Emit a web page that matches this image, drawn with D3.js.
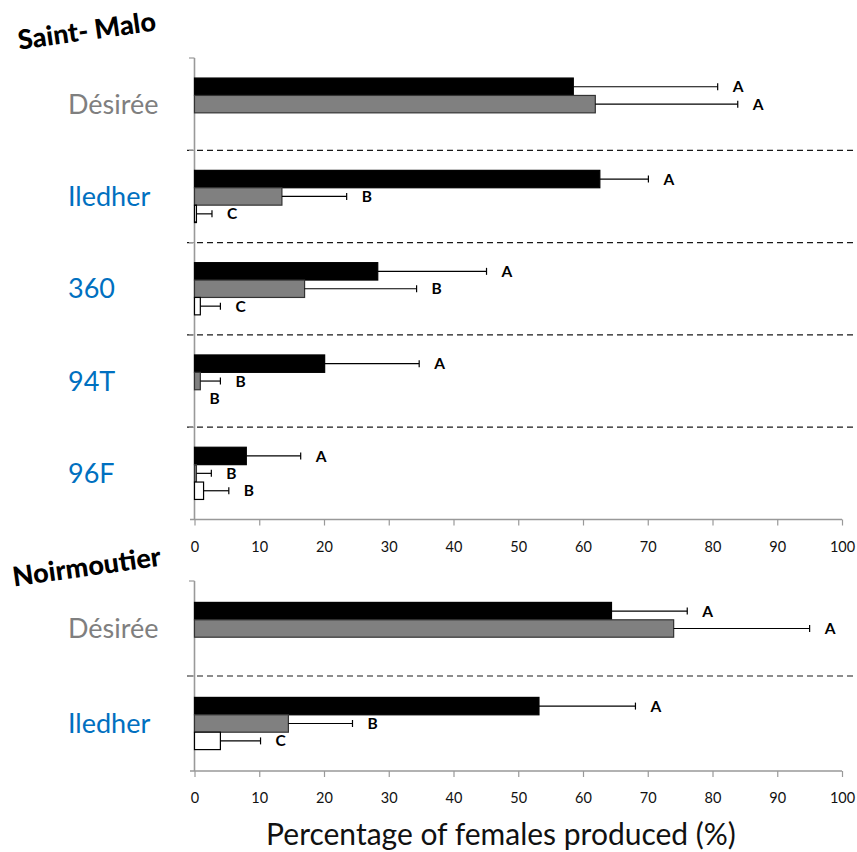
<!DOCTYPE html>
<html>
<head>
<meta charset="utf-8">
<script src="https://cdn.jsdelivr.net/npm/d3@7"></script>
<style>
  html, body { margin: 0; padding: 0; background: #fff; }
  svg { display: block; font-family: Lato, "Open Sans", sans-serif; }
</style>
</head>
<body>
<svg id="chart" width="857" height="852"></svg>
<script>
// ---- Saint-Malo population ----
const stMaloGroups = ["Désirée", "Iledher", "360", "94T", "96F"];
const stMaloBlack    = [58.5, 62.6, 28.3, 20.1, 8.0];
const stMaloBlackErr = [22.3, 7.5, 16.8, 14.6, 8.4];
const stMaloBlackSig = ["A", "A", "A", "A", "A"];
const stMaloGray     = [61.9, 13.5, 17.0, 0.9, 0.3];
const stMaloGrayErr  = [22.0, 10.0, 17.3, 3.1, 2.3];
const stMaloGraySig  = ["A", "B", "B", "B", "B"];
const stMaloWhite    = [null, 0.3, 0.9, 0, 1.4];
const stMaloWhiteErr = [null, 2.4, 3.1, 0, 3.9];
const stMaloWhiteSig = [null, "C", "C", "B", "B"];

// ---- Noirmoutier population ----
const noirGroups = ["Désirée", "Iledher"];
const noirBlack    = [64.4, 53.2];
const noirBlackErr = [11.7, 14.9];
const noirBlackSig = ["A", "A"];
const noirGray     = [74.0, 14.5];
const noirGrayErr  = [21.0, 9.9];
const noirGraySig  = ["A", "B"];
const noirWhite    = [null, 4.0];
const noirWhiteErr = [null, 6.2];
const noirWhiteSig = [null, "C"];

const xTicks = [0, 10, 20, 30, 40, 50, 60, 70, 80, 90, 100];
const seriesNames = ["black", "gray", "white"];
const seriesFill = { black: "#000000", gray: "#808080", white: "#ffffff" };
const seriesStroke = { black: "#000000", gray: "#333333", white: "#000000" };
const groupColor = { "Désirée": "#7f7f7f" };
const defaultGroupColor = "#0070c0";

const svg = d3.select("#chart");
const x = d3.scaleLinear().domain([0, 100]).range([194.5, 842]);

function buildRows(groups, vals) {
  // vals: [means, errs, letters] for each series
  const rows = [];
  groups.forEach((g, gi) => {
    seriesNames.forEach((s, si) => {
      const [m, e, sig] = vals[si];
      if (m[gi] === null) return;
      rows.push({ group: g, series: s, value: m[gi], err: e[gi], sig: sig[gi] });
    });
  });
  return rows;
}

function drawPanel(cfg) {
  const { groups, rows, top, bottom, title, titleX, titleY } = cfg;
  const g = svg.append("g");
  const y = d3.scaleBand().domain(groups).range([top, bottom]);
  const barH = 17.4;
  const yInner = d3.scaleBand().domain(seriesNames).range([-1.5 * barH, 1.5 * barH]);

  // category separators (dashed) with small outer ticks
  const bounds = groups.slice(1).map(d => y(d));
  g.selectAll("line.sep").data(bounds).join("line")
    .attr("x1", 187).attr("x2", 857)
    .attr("y1", d => d).attr("y2", d => d)
    .attr("stroke", "#1a1a1a").attr("stroke-width", 1.2)
    .attr("stroke-dasharray", "6,4");
  g.selectAll("line.ytick").data([top, ...bounds]).join("line")
    .attr("x1", 189).attr("x2", x(0))
    .attr("y1", d => d).attr("y2", d => d)
    .attr("stroke", "#999").attr("stroke-width", 1.2);

  // vertical category axis
  g.append("line")
    .attr("x1", x(0)).attr("x2", x(0))
    .attr("y1", top).attr("y2", bottom)
    .attr("stroke", "#999").attr("stroke-width", 1.6);

  // value axis
  const axis = d3.axisBottom(x).tickValues(xTicks).tickSize(6).tickPadding(16)
    .tickFormat(d3.format("d"));
  const ax = g.append("g").attr("transform", `translate(0,${bottom})`).call(axis);
  ax.select(".domain").attr("stroke", "#999").attr("stroke-width", 1.4)
    .attr("d", `M190,0H${x(100)}`);
  ax.selectAll(".tick line").attr("stroke", "#999").attr("stroke-width", 1.2);
  ax.selectAll(".tick text").attr("fill", "#111").style("font-size", "14.5px")
    .style("font-family", "Lato, sans-serif");

  // category labels
  g.selectAll("text.cat").data(groups).join("text")
    .attr("x", 68).attr("y", d => y(d) + y.bandwidth() / 2)
    .attr("dy", "0.35em")
    .attr("fill", d => groupColor[d] || defaultGroupColor)
    .style("font-size", "27px")
    .text(d => d);

  const cy = d => y(d.group) + y.bandwidth() / 2 + yInner(d.series);

  // bars
  g.selectAll("rect.bar").data(rows.filter(d => d.value > 0)).join("rect")
    .attr("x", x(0)).attr("y", cy)
    .attr("width", d => x(d.value) - x(0))
    .attr("height", yInner.bandwidth())
    .attr("fill", d => seriesFill[d.series])
    .attr("stroke", d => seriesStroke[d.series]).attr("stroke-width", 1.2);

  // error bars
  const eb = rows.filter(d => d.err > 0);
  g.selectAll("line.err").data(eb).join("line")
    .attr("x1", d => x(d.value)).attr("x2", d => x(d.value + d.err))
    .attr("y1", d => cy(d) + yInner.bandwidth() / 2)
    .attr("y2", d => cy(d) + yInner.bandwidth() / 2)
    .attr("stroke", "#000").attr("stroke-width", 1.2);
  g.selectAll("line.cap").data(eb).join("line")
    .attr("x1", d => x(d.value + d.err)).attr("x2", d => x(d.value + d.err))
    .attr("y1", d => cy(d) + yInner.bandwidth() / 2 - 3.5)
    .attr("y2", d => cy(d) + yInner.bandwidth() / 2 + 3.5)
    .attr("stroke", "#000").attr("stroke-width", 1.2);

  // significance letters
  g.selectAll("text.sig").data(rows).join("text")
    .attr("x", d => x(d.value + d.err) + 15)
    .attr("y", d => cy(d) + yInner.bandwidth() / 2)
    .attr("dy", "0.36em")
    .attr("fill", "#000")
    .style("font-size", "15.5px").style("font-weight", "bold")
    .text(d => d.sig);

  // population title
  svg.append("text")
    .attr("transform", `translate(${titleX},${titleY}) rotate(-8)`)
    .attr("text-anchor", "middle")
    .style("font-size", "27px").style("font-weight", "900")
    .attr("fill", "#000")
    .text(title);
}

drawPanel({
  groups: stMaloGroups,
  rows: buildRows(stMaloGroups, [
    [stMaloBlack, stMaloBlackErr, stMaloBlackSig],
    [stMaloGray, stMaloGrayErr, stMaloGraySig],
    [stMaloWhite, stMaloWhiteErr, stMaloWhiteSig]
  ]),
  top: 58, bottom: 519.5,
  title: "Saint- Malo", titleX: 88, titleY: 40
});

drawPanel({
  groups: noirGroups,
  rows: buildRows(noirGroups, [
    [noirBlack, noirBlackErr, noirBlackSig],
    [noirGray, noirGrayErr, noirGraySig],
    [noirWhite, noirWhiteErr, noirWhiteSig]
  ]),
  top: 581, bottom: 771,
  title: "Noirmoutier", titleX: 88, titleY: 576
});

// value axis title
svg.append("text")
  .attr("x", 501).attr("y", 845)
  .attr("text-anchor", "middle")
  .attr("fill", "#111")
  .style("font-size", "30px")
  .text("Percentage of females produced (%)");
</script>
</body>
</html>
